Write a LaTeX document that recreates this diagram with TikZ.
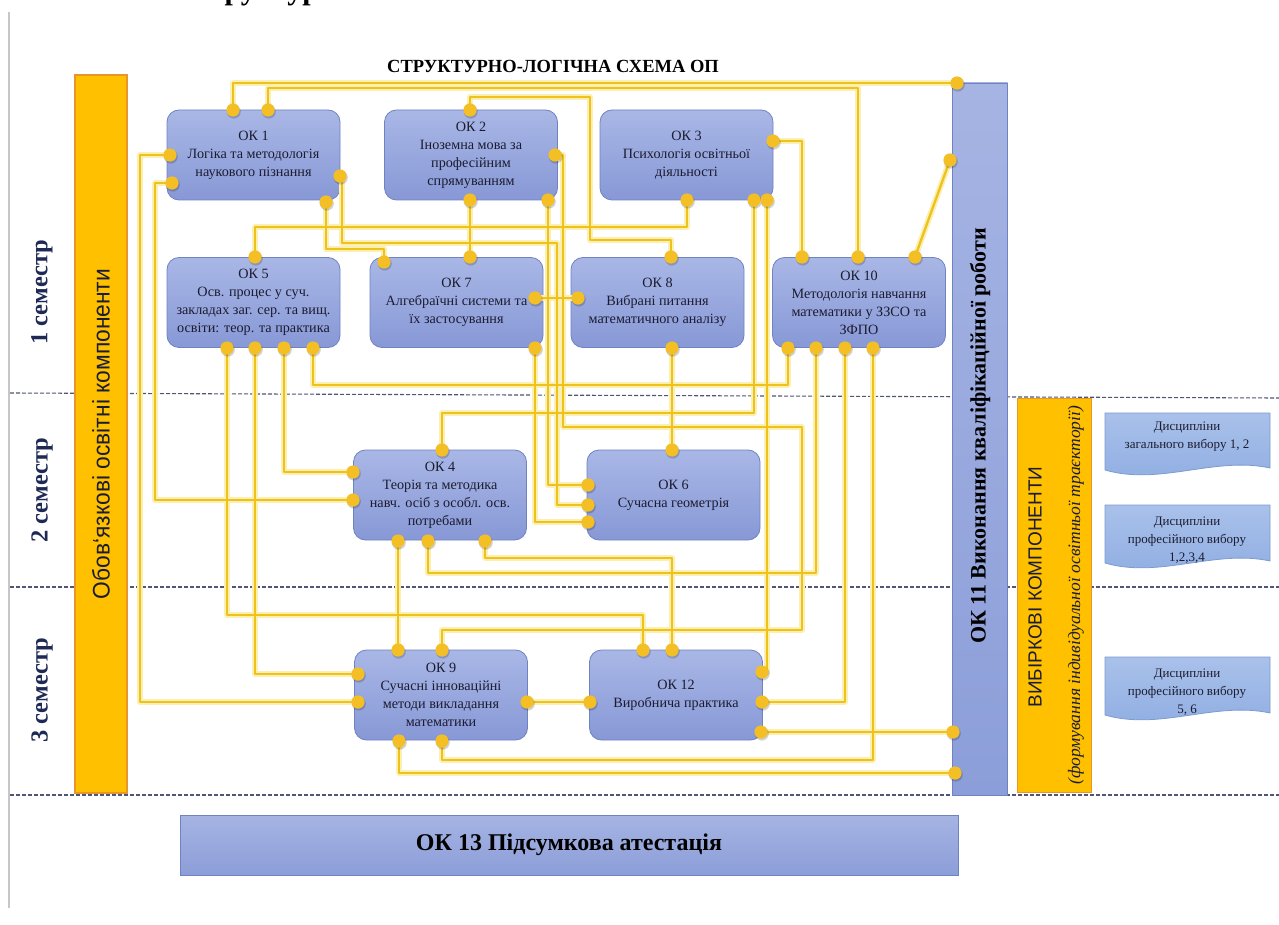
\documentclass[tikz,border=0pt]{standalone}
\usepackage{fontspec}
\setmainfont{Liberation Serif}
\setsansfont{Liberation Sans}
\usetikzlibrary{calc}
\definecolor{boxtop}{HTML}{A9B7E6}
\definecolor{boxbot}{HTML}{8798D6}
\definecolor{boxborder}{HTML}{6F82C2}
\definecolor{boxtext}{HTML}{1C1C30}
\definecolor{dotc}{HTML}{F4BE25}
\definecolor{linec}{HTML}{EEC21A}
\definecolor{glowc}{HTML}{FBEFB2}
\definecolor{orangefill}{HTML}{FFC000}
\definecolor{orangeborder}{HTML}{E8962A}
\definecolor{bartop}{HTML}{A6B4E3}
\definecolor{barbot}{HTML}{8C9ED9}
\definecolor{doctop}{HTML}{A9C1EA}
\definecolor{docbot}{HTML}{8FADE2}
\definecolor{docborder}{HTML}{7C9BD2}
\definecolor{dashc}{HTML}{4F5573}
\definecolor{semc}{HTML}{1E2A55}
\newcommand\allconnectors[1]{%
\draw[#1] (a1) |- (l1);
\draw[#1] (a2) -- ++(0,-22) -| (j2);
\draw[#1] (a3) -- ++(-30,0) |- (i4);
\draw[#1] (a4) -- ++(-17,0) |- (d3);
\draw[#1] (a5) -- ++(2,0) |- (557,243) |- (f3);
\draw[#1] (a6) -- ++(0,47) -| (g1);
\draw[#1] (b1) -- ++(0,-13) -| (590,240) -| (h2);
\draw[#1] (b2) -- ++(8,0) |- (802,427) -- (802,630) -| (i2);
\draw[#1] (b3) -- (g2);
\draw[#1] (b4) |- (f2);
\draw[#1] (c1) -| (j1);
\draw[#1] (c2) -- ++(0,27) -| (e1);
\draw[#1] (c3) -- ++(0,213) -| (d1);
\draw[#1] (c4) |- (k4);
\draw[#1] (e2) -- ++(0,267) -| (k1);
\draw[#1] (e3) |- (i3);
\draw[#1] (e4) |- (d2);
\draw[#1] (e5) -- ++(0,37) -| (j4);
\draw[#1] (g3) -- (h1);
\draw[#1] (g4) |- (f4);
\draw[#1] (h3) -- (f1);
\draw[#1] (j3) -- (l2);
\draw[#1] (j5) -- ++(0,225) -| (d5);
\draw[#1] (j6) |- (k5);
\draw[#1] (j7) -- ++(0,412) -| (i7);
\draw[#1] (d4) -- (i1);
\draw[#1] (d6) -- ++(0,17) -| (k2);
\draw[#1] (i5) -- (k3);
\draw[#1] (i6) |- (l4);
\draw[#1] (k6) -- (l3);
}
\tikzset{
  okbox/.style={rectangle, rounded corners=12, draw=boxborder, line width=0.8,
    top color=boxtop, bottom color=boxbot, minimum width=173, minimum height=90,
    align=center, font=\fontsize{14.2}{18}\selectfont, text=boxtext, inner sep=1},
  obar/.style={rectangle, draw=orangeborder, line width=1.6, fill=orangefill},
  bluebar/.style={rectangle, draw=boxborder, line width=0.8, top color=bartop, bottom color=barbot},
  doctext/.style={align=center, font=\fontsize{13}{18}\selectfont, text=boxtext},
  semlabel/.style={rotate=90, font=\bfseries\fontsize{24.5}{24.5}\selectfont, text=semc},
  dashline/.style={dashc, dash pattern=on 4pt off 2pt, line width=1.1},
  glowline/.style={glowc, line width=6, line join=round},
  coreline/.style={linec, line width=2.3, line join=round},
}
\begin{document}
\begin{tikzpicture}[x=1pt,y=-1pt]
\useasboundingbox (0,0) rectangle (1279,925);
\fill[white] (0,0) rectangle (1279,925);
% heading cut off by the top edge (only its lowest part shows)
\node[anchor=base west, font=\bfseries\fontsize{30}{30}\selectfont, inner sep=0] (heading) at (188,0) {Структура};
% left border line
\draw[black!22, line width=2.5] (9,12) -- (9,908);
% dashed semester separators
\draw[dashline] (10,393) -- (1279,398);
\draw[dashline] (10,587) -- (1279,587);
\draw[dashline] (10,795) -- (1279,795);
% semester labels
\node[semlabel] (sem1) at (42,292) {1 семестр};
\node[semlabel] (sem2) at (42,490) {2 семестр};
\node[semlabel] (sem3) at (42,690) {3 семестр};
% left orange bar
\node[obar, minimum width=52, minimum height=718] (oblig) at (101,434) {};
\node[rotate=90, font=\sffamily\fontsize{24}{24}\selectfont, text=boxtext] (obligtext) at (oblig.center) {\scalebox{0.95}[1]{Обов‘язкові освітні компоненти}};
% title
\node[font=\bfseries\fontsize{18.5}{18.5}\selectfont, text=black] (title) at (553,66) {СТРУКТУРНО-ЛОГІЧНА СХЕМА ОП};
% OK11 bar
\node[bluebar, minimum width=55, minimum height=712] (ok11) at (980,439) {};
\node[rotate=90, font=\bfseries\fontsize{22}{22}\selectfont, text=black] (ok11text) at (980,436) {ОК 11 Виконання кваліфікаційної роботи};
% right orange bar
\node[obar, minimum width=74, minimum height=394] (elect) at (1054.5,595.5) {};
\node[rotate=90, font=\sffamily\fontsize{19}{19}\selectfont, text=boxtext] (electA) at (1035,587) {ВИБІРКОВІ КОМПОНЕНТИ};
\node[rotate=90, font=\itshape\fontsize{17.5}{17.5}\selectfont, text=boxtext] (electB) at (1076,595) {(формування індивідуальної освітньої траєкторії)};
% document shapes
\foreach \nm/\yt/\yb in {docA/413/470, docB/505/563, docC/657/715}{
  \path[draw=docborder, line width=0.8, top color=doctop, bottom color=docbot]
    (1105,\yt) -- (1270,\yt) -- (1270,\yb-2) .. controls (1215,\yb-14) and (1160,\yb+16) .. (1105,\yb) -- cycle;
}
\node[doctext] (docAt) at (1187,437) {Дисципліни\\загального вибору 1, 2};
\node[doctext] (docBt) at (1187,540) {Дисципліни\\професійного вибору\\1,2,3,4};
\node[doctext] (docCt) at (1187,692) {Дисципліни\\професійного вибору\\5, 6};
% OK13
\node[bluebar, minimum width=778, minimum height=60, font=\bfseries\fontsize{24}{24}\selectfont, text=black] (ok13) at (569,845) {ОК 13 Підсумкова атестація};
% main boxes
\node[okbox] (ok1) at (253.5,155) {ОК 1\\Логіка та методологія\\наукового пізнання};
\node[okbox] (ok2) at (471,155) {ОК 2\\Іноземна мова за\\професійним\\спрямуванням};
\node[okbox] (ok3) at (686.5,155) {ОК 3\\Психологія освітньої\\діяльності};
\node[okbox] (ok5) at (253.5,302.5) {ОК 5\\Осв. процес у суч.\\закладах заг. сер. та вищ.\\освіти: теор. та практика};
\node[okbox] (ok7) at (456.5,302.5) {ОК 7\\Алгебраїчні системи та\\їх застосування};
\node[okbox] (ok8) at (657.5,302.5) {ОК 8\\Вибрані питання\\математичного аналізу};
\node[okbox] (ok10) at (859,302.5) {ОК 10\\Методологія навчання\\математики у ЗЗСО та\\ЗФПО};
\node[okbox] (ok4) at (440,495) {ОК 4\\Теорія та методика\\навч. осіб з особл. осв.\\потребами};
\node[okbox] (ok6) at (673.5,495) {ОК 6\\Сучасна геометрія};
\node[okbox] (ok9) at (441,695) {ОК 9\\Сучасні інноваційні\\методи викладання\\математики};
\node[okbox] (ok12) at (676,695) {ОК 12\\Виробнича практика};
% connector points
\coordinate (a1) at (233,110); \coordinate (a2) at (268,110);
\coordinate (a3) at (170,155); \coordinate (a4) at (172,183);
\coordinate (a5) at (340,176); \coordinate (a6) at (326,202);
\coordinate (b1) at (470,110); \coordinate (b2) at (555,155);
\coordinate (b3) at (470,200); \coordinate (b4) at (548,200);
\coordinate (c1) at (773,141); \coordinate (c2) at (687,200);
\coordinate (c3) at (754,200); \coordinate (c4) at (767,200);
\coordinate (e1) at (255,257); \coordinate (e2) at (227,348);
\coordinate (e3) at (255,348); \coordinate (e4) at (284,348);
\coordinate (e5) at (313,348);
\coordinate (g1) at (384,262); \coordinate (g2) at (470,257);
\coordinate (g3) at (535,298); \coordinate (g4) at (535,348);
\coordinate (h1) at (578,298); \coordinate (h2) at (671,257);
\coordinate (h3) at (672,348);
\coordinate (j1) at (802,257); \coordinate (j2) at (858,257);
\coordinate (j3) at (915,257); \coordinate (j4) at (788,348);
\coordinate (j5) at (816,348); \coordinate (j6) at (845,348);
\coordinate (j7) at (873,348);
\coordinate (d1) at (442,450); \coordinate (d2) at (353,472);
\coordinate (d3) at (353,500); \coordinate (d4) at (398,541);
\coordinate (d5) at (428,541); \coordinate (d6) at (485,541);
\coordinate (f1) at (672,450); \coordinate (f2) at (588,485);
\coordinate (f3) at (588,505); \coordinate (f4) at (588,522);
\coordinate (i1) at (398,650); \coordinate (i2) at (442,650);
\coordinate (i3) at (358,674); \coordinate (i4) at (358,702);
\coordinate (i5) at (527,702); \coordinate (i6) at (399,741);
\coordinate (i7) at (442,741);
\coordinate (k1) at (643,650); \coordinate (k2) at (672,650);
\coordinate (k3) at (590,702); \coordinate (k4) at (762,672);
\coordinate (k5) at (762,702); \coordinate (k6) at (761,732);
\coordinate (l1) at (957,83); \coordinate (l2) at (950,160);
\coordinate (l3) at (953,732); \coordinate (l4) at (955,773);
% connectors
\allconnectors{glowline}
\allconnectors{coreline}
% dots
\foreach \p in {a1,a2,a3,a4,a5,a6,b1,b2,b3,b4,c1,c2,c3,c4,e1,e2,e3,e4,e5,g1,g2,g3,g4,h1,h2,h3,j1,j2,j3,j4,j5,j6,j7,d1,d2,d3,d4,d5,d6,f1,f2,f3,f4,i1,i2,i3,i4,i5,i6,i7,k1,k2,k3,k4,k5,k6,l1,l2,l3,l4}{
  \fill[black, opacity=0.18] ($(\p)+(0.8,1.6)$) circle (7);
  \fill[dotc] (\p) circle (6.6);
}
\end{tikzpicture}
\end{document}
